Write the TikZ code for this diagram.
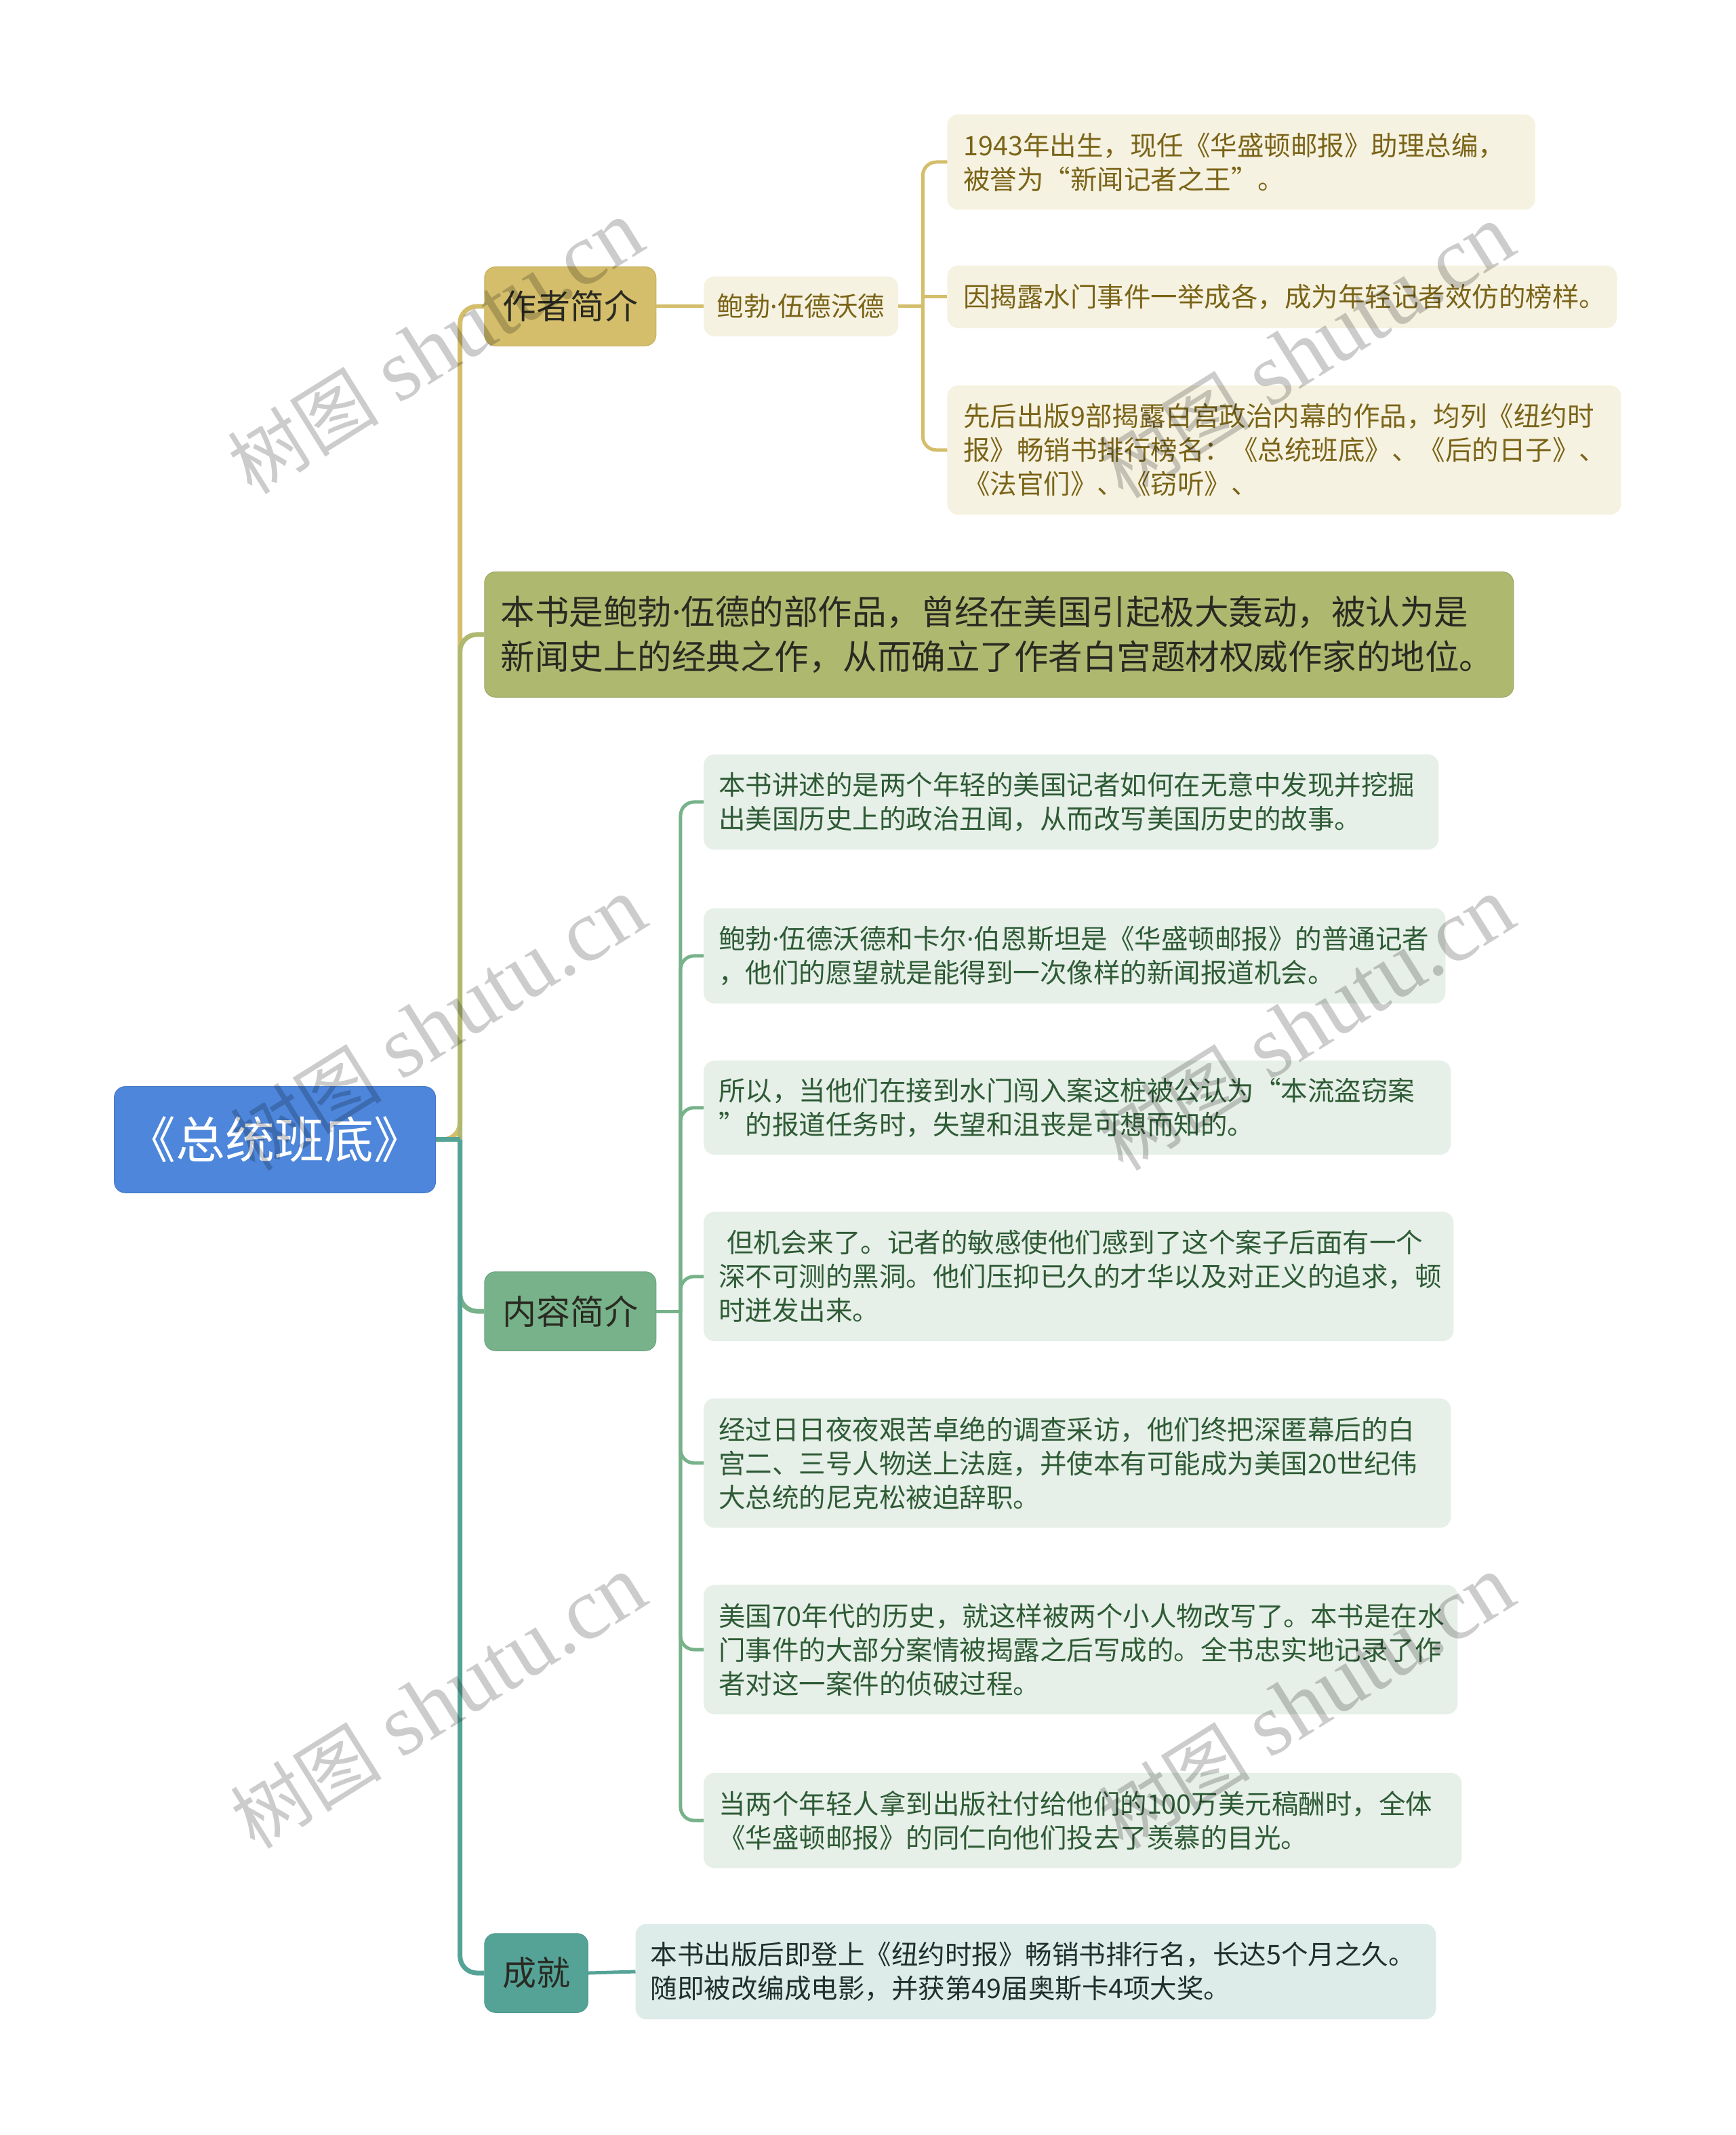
\documentclass[tikz,border=0pt]{standalone}
\usepackage{fontspec}
\newfontfamily\cjk{Noto Sans CJK SC}
\newfontfamily\wmlatin{Liberation Serif}
\newfontfamily\dotfont{Noto Sans}
\newcommand\mdot{{\dotfont ·}}
\usetikzlibrary{fit}
\definecolor{rootblue}{HTML}{4D86DB}
\definecolor{goldc}{HTML}{D4BE6B}
\definecolor{goldd}{HTML}{C6AF5C}
\definecolor{olivec}{HTML}{AFB86F}
\definecolor{greenc}{HTML}{77B28A}
\definecolor{tealc}{HTML}{55A397}
\definecolor{creamf}{HTML}{F6F2E1}
\definecolor{greenf}{HTML}{E6EFE8}
\definecolor{tealf}{HTML}{DDECE9}
\definecolor{goldtext}{HTML}{7A6418}
\definecolor{greentext}{HTML}{2E5B35}
\definecolor{darktext}{HTML}{2A2A22}
\definecolor{tealtext}{HTML}{1E2F2C}
\begin{document}
\begin{tikzpicture}[x=2.00784pt,y=-2.00829pt,
  boxbase/.style={rounded corners=16pt, inner sep=0pt},
  rootbox/.style={boxbase, fill=rootblue, draw=rootblue!90!black, line width=1pt},
  goldbox/.style={boxbase, fill=goldc, draw=goldd, line width=1pt},
  olivebox/.style={boxbase, fill=olivec, draw=olivec!90!black, line width=1pt},
  greenbox/.style={boxbase, fill=greenc, draw=greenc!92!black, line width=1pt},
  tealbox/.style={boxbase, fill=tealc, draw=tealc!92!black, line width=1pt},
  creambox/.style={boxbase, fill=creamf},
  greenleaf/.style={boxbase, fill=greenf},
  tealleaf/.style={boxbase, fill=tealf},
  ltext/.style={anchor=west, align=left, inner sep=0pt, font=\cjk\fontsize{39.5}{50}\selectfont},
  ctext/.style={inner sep=0pt, font=\cjk\fontsize{50}{60}\selectfont, text=darktext},
  mainline/.style={line width=7pt, rounded corners=25pt},
  subline/.style={line width=5pt, rounded corners=20pt},
  wm/.style={rotate=32, inner sep=0pt, text=black, text opacity=0.2}
]
\useasboundingbox (0,0) rectangle (1275,1568);

% ---------- nodes ----------
\node[rootbox, fit={(84,798)(320,876)}] (root) {};
\node[inner sep=0pt, font=\cjk\fontsize{73}{80}\selectfont, text=white] (rootT) at (root.center) {《总统班底》};

\node[goldbox, fit={(356,196)(482,254)}] (au) {};
\node[ctext] (auT) at (au.center) {作者简介};

\node[creambox, fit={(517,203)(660,247)}] (bob) {};
\node[inner sep=0pt, font=\cjk\fontsize{39.5}{50}\selectfont, text=goldtext] (bobT) at (bob.center) {鲍勃\mdot 伍德沃德};

\node[creambox, fit={(696,84)(1128,154)}] (L1) {};
\node[ltext, text=goldtext] (L1T) at ([xshift=24pt]L1.west) {1943年出生，现任《华盛顿邮报》助理总编，\\被誉为“新闻记者之王”。};
\node[creambox, fit={(696,195)(1188,241)}] (L2) {};
\node[ltext, text=goldtext] (L2T) at ([xshift=24pt]L2.west) {因揭露水门事件一举成各，成为年轻记者效仿的榜样。};
\node[creambox, fit={(696,283)(1191,378)}] (L3) {};
\node[ltext, text=goldtext] (L3T) at ([xshift=24pt]L3.west) {先后出版9部揭露白宫政治内幕的作品，均列《纽约时\\报》畅销书排行榜名：《总统班底》、《后的日子》、\\《法官们》、《窃听》、};

\node[olivebox, fit={(356,420)(1112,512)}] (ob) {};
\node[anchor=west, align=left, inner sep=0pt, font=\cjk\fontsize{50.5}{66}\selectfont, text=darktext] (obT) at ([xshift=24pt]ob.west) {本书是鲍勃\mdot 伍德的部作品，曾经在美国引起极大轰动，被认为是\\新闻史上的经典之作，从而确立了作者白宫题材权威作家的地位。};

\node[greenbox, fit={(356,934)(482,992)}] (ct) {};
\node[ctext] (ctT) at (ct.center) {内容简介};

\node[greenleaf, fit={(517,554)(1057,624)}] (C1) {};
\node[ltext, text=greentext] (C1T) at ([xshift=22pt]C1.west) {本书讲述的是两个年轻的美国记者如何在无意中发现并挖掘\\出美国历史上的政治丑闻，从而改写美国历史的故事。};
\node[greenleaf, fit={(517,667)(1062,737)}] (C2) {};
\node[ltext, text=greentext] (C2T) at ([xshift=22pt]C2.west) {鲍勃\mdot 伍德沃德和卡尔\mdot 伯恩斯坦是《华盛顿邮报》的普通记者\\，他们的愿望就是能得到一次像样的新闻报道机会。};
\node[greenleaf, fit={(517,779)(1066,848)}] (C3) {};
\node[ltext, text=greentext] (C3T) at ([xshift=22pt]C3.west) {所以，当他们在接到水门闯入案这桩被公认为“本流盗窃案\\”的报道任务时，失望和沮丧是可想而知的。};
\node[greenleaf, fit={(517,890)(1068,985)}] (C4) {};
\node[ltext, text=greentext] (C4T) at ([xshift=22pt]C4.west) {\hspace*{12pt}但机会来了。记者的敏感使他们感到了这个案子后面有一个\\深不可测的黑洞。他们压抑已久的才华以及对正义的追求，顿\\时迸发出来。};
\node[greenleaf, fit={(517,1027)(1066,1122)}] (C5) {};
\node[ltext, text=greentext] (C5T) at ([xshift=22pt]C5.west) {经过日日夜夜艰苦卓绝的调查采访，他们终把深匿幕后的白\\宫二、三号人物送上法庭，并使本有可能成为美国20世纪伟\\大总统的尼克松被迫辞职。};
\node[greenleaf, fit={(517,1164)(1071,1259)}] (C6) {};
\node[ltext, text=greentext] (C6T) at ([xshift=22pt]C6.west) {美国70年代的历史，就这样被两个小人物改写了。本书是在水\\门事件的大部分案情被揭露之后写成的。全书忠实地记录了作\\者对这一案件的侦破过程。};
\node[greenleaf, fit={(517,1302)(1074,1372)}] (C7) {};
\node[ltext, text=greentext] (C7T) at ([xshift=22pt]C7.west) {当两个年轻人拿到出版社付给他们的100万美元稿酬时，全体\\《华盛顿邮报》的同仁向他们投去了羡慕的目光。};

\node[tealbox, fit={(356,1420)(432,1478)}] (cj) {};
\node[ctext] (cjT) at (cj.center) {成就};
\node[tealleaf, fit={(467,1413)(1055,1483)}] (A1) {};
\node[ltext, text=tealtext] (A1T) at ([xshift=22pt]A1.west) {本书出版后即登上《纽约时报》畅销书排行名，长达5个月之久。\\随即被改编成电影，并获第49届奥斯卡4项大奖。};

% ---------- connectors ----------
\coordinate (T) at (338,837);
\coordinate (A2) at (678,225);
\coordinate (B2) at (500,963);

\draw[mainline, draw=goldc] (root.east) -- (T) |- (au.west);
\draw[mainline, draw=olivec] (T) |- (ob.west);
\draw[mainline, draw=greenc] (T) |- (ct.west);
\draw[mainline, draw=tealc] (T) |- (cj.west);
\draw[line width=7pt, draw=tealc] (root.east) -- (T);

\draw[subline, draw=goldc] (au.east) -- (bob.west);
\draw[subline, draw=goldc] (bob.east) -- (A2);
\draw[subline, draw=goldc] (A2) |- (L1.west);
\draw[subline, draw=goldc] (A2) |- (L3.west);
\draw[subline, draw=goldc] (A2 |- L2.west) -- (L2.west);

\draw[subline, draw=greenc] (ct.east) -- (B2);
\foreach \c in {C1,C2,C3,C4,C5,C6,C7}{
  \draw[subline, draw=greenc] (B2) |- (\c.west);
}
\draw[subline, draw=tealc] (cj.east) -- (A1.west);

% ---------- watermarks ----------
\foreach \p/\n in {{(320,255)}/w1,{(960,258)}/w2,{(322,752)}/w3,{(960,752)}/w4,{(322,1250)}/w5,{(960,1250)}/w6}{
  \node[wm] (\n) at \p {{\cjk\fontsize{112}{120}\selectfont 树图}\hspace{30pt}{\wmlatin\fontsize{130}{140}\selectfont shutu.cn}};
}
\end{tikzpicture}
\end{document}
